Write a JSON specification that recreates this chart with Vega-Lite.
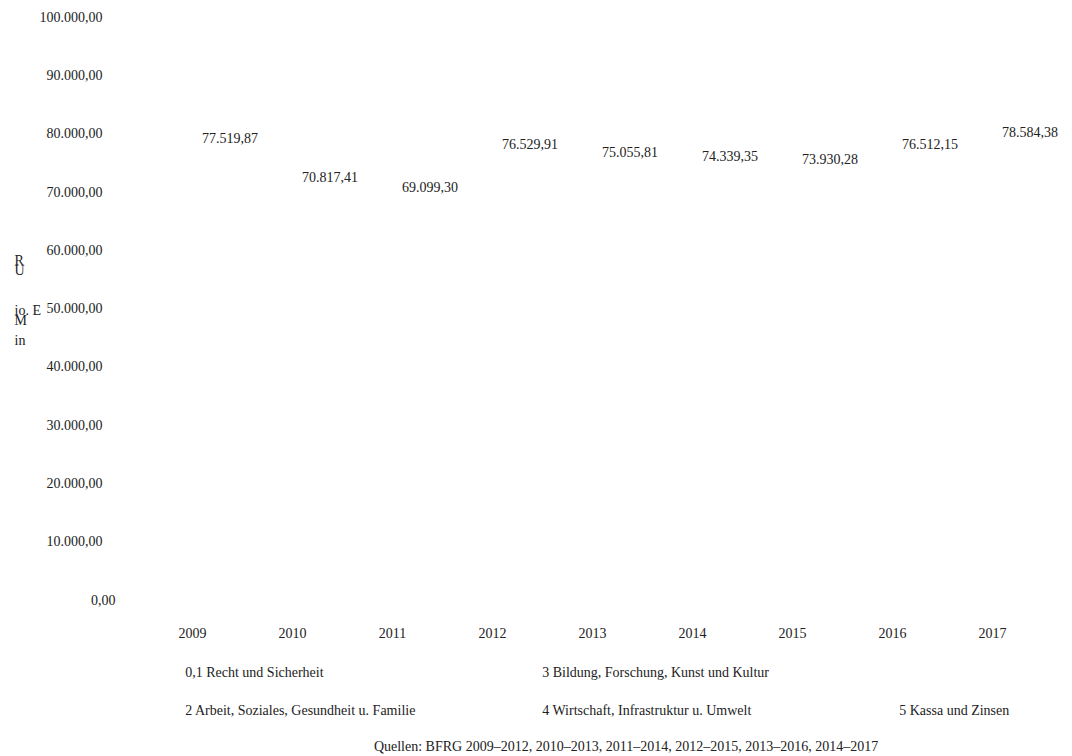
{
  "$schema": "https://vega.github.io/schema/vega-lite/v6.json",
  "width": 900,
  "height": 582.7,
  "autosize": {"type": "none"},
  "padding": {"left": 142, "top": 17.3, "right": 30, "bottom": 156},
  "config": {
    "view": {"stroke": null},
    "locale": {"number": {"decimal": ",", "thousands": ".", "grouping": [3], "currency": ["", " €"]}},
    "text": {"font": "Liberation Serif"}
  },
  "title": {
    "text": "Quellen: BFRG 2009–2012, 2010–2013, 2011–2014, 2012–2015, 2013–2016, 2014–2017",
    "orient": "bottom",
    "anchor": "middle",
    "frame": "group",
    "offset": 22,
    "dx": 34,
    "font": "Liberation Serif",
    "fontSize": 14,
    "fontWeight": "normal",
    "color": "#222"
  },
  "layer": [
    {
      "data": {"values": [
        {"year": "2009", "total": 77519.87},
        {"year": "2010", "total": 70817.41},
        {"year": "2011", "total": 69099.30},
        {"year": "2012", "total": 76529.91},
        {"year": "2013", "total": 75055.81},
        {"year": "2014", "total": 74339.35},
        {"year": "2015", "total": 73930.28},
        {"year": "2016", "total": 76512.15},
        {"year": "2017", "total": 78584.38}
      ]},
      "mark": {"type": "text", "dx": 38, "dy": -9.5, "fontSize": 14, "font": "Liberation Serif", "color": "#222"},
      "encoding": {
        "x": {
          "field": "year", "type": "ordinal",
          "scale": {"paddingInner": 0, "paddingOuter": 0},
          "axis": {
            "title": null, "domain": false, "ticks": false, "grid": false,
            "labelAngle": 0, "labelBaseline": "middle", "labelPadding": 33,
            "labelFont": "Liberation Serif", "labelFontSize": 14, "labelColor": "#222"
          }
        },
        "y": {
          "field": "total", "type": "quantitative",
          "scale": {"domain": [0, 100000], "nice": false},
          "axis": {
            "values": [0, 10000, 20000, 30000, 40000, 50000, 60000, 70000, 80000, 90000, 100000],
            "format": ",.2f",
            "domain": false, "ticks": false, "grid": false,
            "labelPadding": {"condition": {"test": "datum.value === 0", "value": 27}, "value": 40},
            "labelFont": "Liberation Serif", "labelFontSize": 14, "labelColor": "#222",
            "title": ["R", "U", "\u200b", "\u200b", "\u200b", "io. E", "M", "\u200b", "in"],
            "titleAngle": 0,
            "titleX": -128,
            "titleY": 243,
            "titleAlign": "left",
            "titleBaseline": "middle",
            "titleLineHeight": 10,
            "titleFont": "Liberation Serif",
            "titleFontSize": 14,
            "titleFontWeight": "normal",
            "titleColor": "#222"
          }
        },
        "text": {"field": "total", "type": "quantitative", "format": ",.2f"}
      }
    },
    {
      "data": {"values": [
        {"category": "0,1 Recht und Sicherheit"},
        {"category": "2 Arbeit, Soziales, Gesundheit u. Familie"},
        {"category": "3 Bildung, Forschung, Kunst und Kultur"},
        {"category": "4 Wirtschaft, Infrastruktur u. Umwelt"},
        {"category": "5 Kassa und Zinsen"}
      ]},
      "mark": {"type": "point", "opacity": 0, "size": 0},
      "encoding": {
        "color": {
          "field": "category", "type": "nominal",
          "scale": {
            "domain": ["0,1 Recht und Sicherheit", "3 Bildung, Forschung, Kunst und Kultur", " ", "2 Arbeit, Soziales, Gesundheit u. Familie", "4 Wirtschaft, Infrastruktur u. Umwelt", "5 Kassa und Zinsen"],
            "range": ["#ffffff", "#ffffff", "#ffffff", "#ffffff", "#ffffff", "#ffffff"]
          },
          "legend": {
            "orient": "none",
            "legendX": 29.2,
            "legendY": 648.5,
            "columns": 3,
            "direction": "horizontal",
            "gridAlign": "all",
            "columnPadding": 112,
            "rowPadding": 24,
            "title": null,
            "labelFont": "Liberation Serif",
            "labelFontSize": 14,
            "labelColor": "#222",
            "labelLimit": 400,
            "labelOffset": 0,
            "symbolSize": 0,
            "symbolOpacity": 0,
            "symbolStrokeWidth": 0
          }
        }
      }
    }
  ]
}
